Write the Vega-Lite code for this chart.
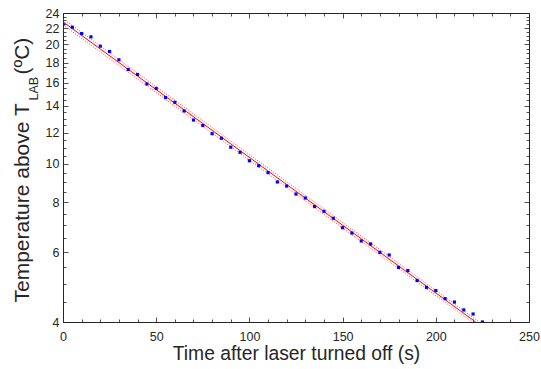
{
  "$schema": "https://vega.github.io/schema/vega-lite/v6.json",
  "width": 466,
  "height": 309,
  "autosize": {"type": "none"},
  "padding": {"left": 63, "top": 13, "right": 12, "bottom": 47},
  "background": "white",
  "config": {
    "view": {"stroke": null},
    "axis": {
      "grid": false,
      "labelFont": "Liberation Sans",
      "titleFont": "Liberation Sans",
      "labelFontSize": 12.5,
      "titleFontSize": 21,
      "titleFontWeight": "normal",
      "labelColor": "#262626",
      "titleColor": "#262626",
      "domainColor": "#262626",
      "domainWidth": 1,
      "tickColor": "#262626",
      "tickWidth": 0.8
    }
  },
  "datasets": {
    "obs": [
      {"t": 0, "T": 22.5}, {"t": 5, "T": 22.1}, {"t": 10, "T": 21.3}, {"t": 15, "T": 20.9},
      {"t": 20, "T": 19.8}, {"t": 25, "T": 19.2}, {"t": 30, "T": 18.3}, {"t": 35, "T": 17.3},
      {"t": 40, "T": 16.8}, {"t": 45, "T": 15.9}, {"t": 50, "T": 15.5}, {"t": 55, "T": 14.7},
      {"t": 60, "T": 14.3}, {"t": 65, "T": 13.6}, {"t": 70, "T": 12.9}, {"t": 75, "T": 12.5},
      {"t": 80, "T": 11.92}, {"t": 85, "T": 11.61}, {"t": 90, "T": 11.02}, {"t": 95, "T": 10.7},
      {"t": 100, "T": 10.19}, {"t": 105, "T": 9.9}, {"t": 110, "T": 9.51}, {"t": 115, "T": 9.01},
      {"t": 120, "T": 8.8}, {"t": 125, "T": 8.4}, {"t": 130, "T": 8.21}, {"t": 135, "T": 7.81},
      {"t": 140, "T": 7.6}, {"t": 145, "T": 7.3}, {"t": 150, "T": 6.91}, {"t": 155, "T": 6.7},
      {"t": 160, "T": 6.4}, {"t": 165, "T": 6.29}, {"t": 170, "T": 5.99}, {"t": 175, "T": 5.9},
      {"t": 180, "T": 5.49}, {"t": 185, "T": 5.39}, {"t": 190, "T": 5.09}, {"t": 195, "T": 4.89},
      {"t": 200, "T": 4.8}, {"t": 205, "T": 4.58}, {"t": 210, "T": 4.49}, {"t": 215, "T": 4.29},
      {"t": 220, "T": 4.19}, {"t": 225, "T": 4.0}
    ],
    "fit": [{"t": 0, "T": 22.8}, {"t": 221.4, "T": 4.0}],
    "lower": [{"t": 0, "T": 22.4}, {"t": 219.5, "T": 4.0}],
    "upper": [{"t": 0, "T": 23.2}, {"t": 223.3, "T": 4.0}]
  },
  "layer": [
    {
      "data": {"name": "lower"},
      "mark": {"type": "line", "color": "#ff0000", "strokeWidth": 1, "strokeDash": [1, 1.5], "opacity": 0.75, "clip": true},
      "encoding": {
        "x": {
          "field": "t", "type": "quantitative",
          "scale": {"domain": [0, 250], "nice": false, "zero": false},
          "axis": {
            "orient": "bottom",
            "values": [0,10,20,30,40,50,60,70,80,90,100,110,120,130,140,150,160,170,180,190,200,210,220,230,240,250],
            "labelExpr": "datum.value % 50 === 0 ? datum.label : ''",
            "tickSize": {"condition": {"test": "datum.value % 50 === 0", "value": -5}, "value": -3},
            "labelPadding": 13,
            "labelBaseline": "top",
            "labelFlush": false,
            "labelOverlap": false,
            "title": "Time after laser turned off (s)",
            "titleFontSize": 19.3,
            "titleBaseline": "alphabetic",
            "titleY": 37
          }
        },
        "y": {
          "field": "T", "type": "quantitative",
          "scale": {"type": "log", "domain": [4, 24], "nice": false, "zero": false},
          "axis": {
            "orient": "left",
            "values": [4,4.5,5,5.5,6,6.5,7,7.5,8,8.5,9,9.5,10,10.5,11,11.5,12,12.5,13,13.5,14,14.5,15,15.5,16,16.5,17,17.5,18,18.5,19,19.5,20,20.5,21,21.5,22,22.5,23,23.5,24],
            "labelExpr": "datum.value % 2 === 0 ? datum.label : ''",
            "tickSize": {"condition": {"test": "datum.value % 2 === 0", "value": -5}, "value": -3},
            "labelPadding": 9,
            "labelBaseline": "middle",
            "labelFlush": false,
            "labelOverlap": false,
            "title": "Temperature above T",
            "titleAngle": -90,
            "titleAlign": "left",
            "titleBaseline": "alphabetic",
            "titleX": -35,
            "titleY": 289
          }
        }
      }
    },
    {
      "data": {"name": "upper"},
      "mark": {"type": "line", "color": "#ff0000", "strokeWidth": 1, "strokeDash": [1, 1.5], "opacity": 0.75, "clip": true},
      "encoding": {
        "x": {
          "field": "t", "type": "quantitative",
          "axis": {
            "orient": "top",
            "values": [0,10,20,30,40,50,60,70,80,90,100,110,120,130,140,150,160,170,180,190,200,210,220,230,240,250],
            "labels": false,
            "tickSize": {"condition": {"test": "datum.value % 50 === 0", "value": -5}, "value": -3},
            "title": null
          }
        },
        "y": {
          "field": "T", "type": "quantitative",
          "axis": {
            "orient": "right",
            "values": [4,4.5,5,5.5,6,6.5,7,7.5,8,8.5,9,9.5,10,10.5,11,11.5,12,12.5,13,13.5,14,14.5,15,15.5,16,16.5,17,17.5,18,18.5,19,19.5,20,20.5,21,21.5,22,22.5,23,23.5,24],
            "labels": false,
            "tickSize": {"condition": {"test": "datum.value % 2 === 0", "value": -5}, "value": -3},
            "title": null
          }
        }
      }
    },
    {
      "data": {"name": "fit"},
      "mark": {"type": "line", "color": "#ff0000", "strokeWidth": 1, "clip": true},
      "encoding": {
        "x": {"field": "t", "type": "quantitative", "axis": null},
        "y": {
          "field": "T", "type": "quantitative",
          "axis": {
            "orient": "left",
            "labels": false, "ticks": false, "domain": false,
            "title": "LAB",
            "titleFontSize": 12.5,
            "titleAngle": -90,
            "titleAlign": "left",
            "titleBaseline": "alphabetic",
            "titleX": -26,
            "titleY": 87
          }
        }
      }
    },
    {
      "data": {"name": "obs"},
      "mark": {"type": "point", "shape": "square", "filled": true, "size": 10, "color": "#0000ff", "opacity": 1, "clip": true},
      "encoding": {
        "x": {"field": "t", "type": "quantitative", "axis": null},
        "y": {
          "field": "T", "type": "quantitative",
          "axis": {
            "orient": "left",
            "labels": false, "ticks": false, "domain": false,
            "title": "(ºC)",
            "titleAngle": -90,
            "titleAlign": "left",
            "titleBaseline": "alphabetic",
            "titleX": -35,
            "titleY": 61
          }
        }
      }
    }
  ],
  "resolve": {"axis": {"x": "independent", "y": "independent"}}
}
